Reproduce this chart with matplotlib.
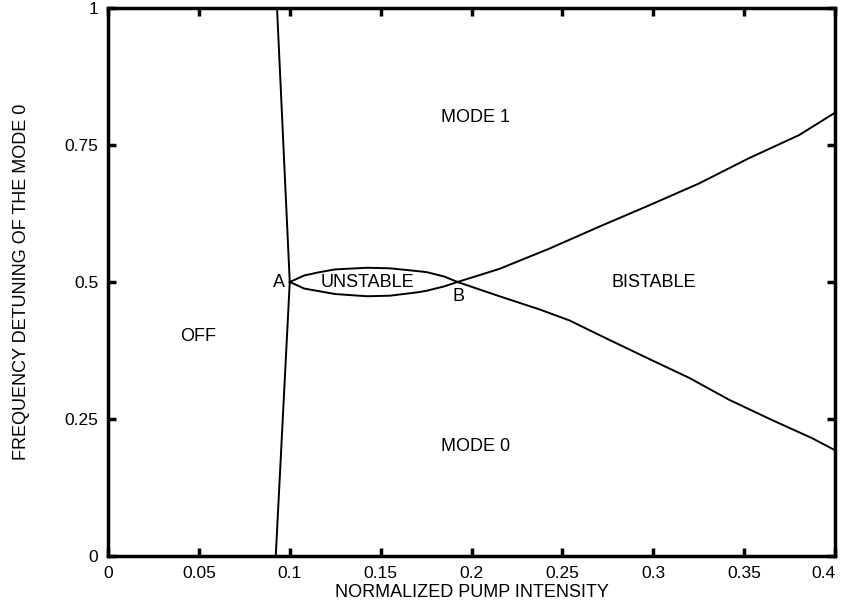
import matplotlib.pyplot as plt

plt.rcParams['font.family'] = ['Liberation Sans', 'DejaVu Sans']

# Granica OFF (lewa linia), przez punkt A
off_x = [0.093, 0.100, 0.0923]
off_y = [1.0, 0.5, 0.0]

# Soczewka UNSTABLE miedzy A i B
lens_x = [0.100, 0.108, 0.1165, 0.125, 0.1425, 0.155, 0.170, 0.1753, 0.185, 0.1923]
lens_gorna = [0.500, 0.512, 0.518, 0.523, 0.526, 0.525, 0.520, 0.518, 0.510, 0.500]
lens_dolna = [0.500, 0.488, 0.483, 0.478, 0.474, 0.475, 0.481, 0.484, 0.492, 0.500]

# Galezie BISTABLE od B w prawo
gorna_x = [0.1923, 0.2154, 0.2429, 0.2703, 0.2978, 0.3253, 0.3527, 0.3802, 0.400]
gorna_y = [0.500, 0.524, 0.561, 0.601, 0.640, 0.680, 0.726, 0.768, 0.809]
dolna_x = [0.1923, 0.2154, 0.2374, 0.2538, 0.2742, 0.2962, 0.3198, 0.3418, 0.3654, 0.3874, 0.400]
dolna_y = [0.500, 0.474, 0.450, 0.430, 0.397, 0.362, 0.325, 0.285, 0.248, 0.215, 0.193]

# Podpisy obszarow
etykiety = ['OFF', 'MODE 1', 'MODE 0', 'UNSTABLE', 'BISTABLE']
etykiety_x = [0.0495, 0.202, 0.202, 0.1425, 0.3005]
etykiety_y = [0.40, 0.80, 0.20, 0.50, 0.50]

xticks = [0, 0.05, 0.1, 0.15, 0.2, 0.25, 0.3, 0.35, 0.4]
xtick_labels = ['0', '0.05', '0.1', '0.15', '0.2', '0.25', '0.3', '0.35', '0.4']
yticks = [0, 0.25, 0.5, 0.75, 1]
ytick_labels = ['0', '0.25', '0.5', '0.75', '1']

fig = plt.figure(figsize=(8.45, 6.06), dpi=100)
ax = fig.add_axes([0.1278, 0.0825, 0.8604, 0.9043])

kw = dict(color='black', linewidth=1.4)
ax.plot(off_x, off_y, **kw)
ax.plot(lens_x, lens_gorna, **kw)
ax.plot(lens_x, lens_dolna, **kw)
ax.plot(gorna_x, gorna_y, **kw)
ax.plot(dolna_x, dolna_y, **kw)

for t, x, y in zip(etykiety, etykiety_x, etykiety_y):
    ax.text(x, y, t, ha='center', va='center', fontsize=13)

ax.text(0.0972, 0.5, 'A', ha='right', va='center', fontsize=13)
ax.text(0.1926, 0.473, 'B', ha='center', va='center', fontsize=13)

ax.set_xlim(0, 0.4)
ax.set_ylim(0, 1)
ax.set_xticks(xticks)
ax.set_xticklabels(xtick_labels)
ax.set_yticks(yticks)
ax.set_yticklabels(ytick_labels)
ax.tick_params(direction='in', length=6, width=2.5, top=True, right=True,
               labelsize=12.5, pad=7)
for s in ax.spines.values():
    s.set_linewidth(2.5)
# ostatnia etykieta przy samej krawedzi, jak w oryginale
ax.get_xticklabels()[-1].set_horizontalalignment('right')
ax.get_xticklabels()[-1].set_x(0.4)

ax.set_xlabel('NORMALIZED PUMP INTENSITY', fontsize=13, labelpad=2)
ax.set_ylabel('FREQUENCY DETUNING OF THE MODE 0', fontsize=13, labelpad=25)

fig.savefig('out.png', dpi=100)
